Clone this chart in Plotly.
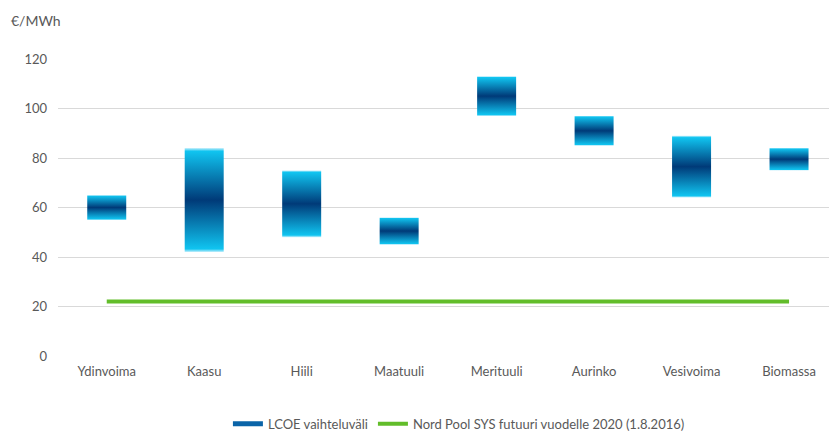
import plotly.graph_objects as go

categories = ["Ydinvoima", "Kaasu", "Hiili", "Maatuuli", "Merituuli", "Aurinko", "Vesivoima", "Biomassa"]
lcoe_low = [55, 42, 48, 45, 97, 85, 64, 75]
lcoe_high = [65, 84, 75, 56, 113, 97, 89, 84]
nordpool_future = 22
y_ticks = [0, 20, 40, 60, 80, 100, 120]

BAR_HALF = 0.2
grad = [[0.0, "#c8f0fc"], [0.03, "#10c4f0"], [0.5, "#003a78"], [0.97, "#10c4f0"], [1.0, "#c8f0fc"]]

fig = go.Figure()
for i, (lo, hi) in enumerate(zip(lcoe_low, lcoe_high)):
    fig.add_trace(go.Scatter(
        x=[i - BAR_HALF, i + BAR_HALF, i + BAR_HALF, i - BAR_HALF, i - BAR_HALF],
        y=[lo, lo, hi, hi, lo],
        mode="lines", fill="toself", line=dict(width=0, color="rgba(0,0,0,0)"),
        fillgradient=dict(type="vertical", colorscale=grad, start=lo, stop=hi),
        showlegend=False, hoverinfo="skip",
    ))

fig.add_trace(go.Scatter(x=[None], y=[None], mode="lines", name="LCOE vaihteluväli",
                         line=dict(color="#0a64a8", width=5)))
fig.add_trace(go.Scatter(x=[0, len(categories) - 1], y=[nordpool_future] * 2, mode="lines",
                         name="Nord Pool SYS futuuri vuodelle 2020 (1.8.2016)",
                         line=dict(color="#62bd2a", width=4)))

font = dict(family="Lato, Carlito, sans-serif", size=13, color="#595959")
fig.update_layout(
    width=829, height=434, margin=dict(l=58, r=0, t=59, b=78, autoexpand=False),
    paper_bgcolor="white", plot_bgcolor="white", font=font,
    xaxis=dict(range=[-0.5, 7.41], tickvals=list(range(len(categories))), ticktext=categories,
               showgrid=False, zeroline=False, showline=False, ticks="", ticklabelstandoff=6,
               tickfont=font),
    yaxis=dict(range=[0, 120], tickvals=y_ticks, showgrid=True, gridcolor="#d9d9d9", gridwidth=1,
               zeroline=False, showline=False, ticks="", ticklabelstandoff=10, tickfont=font),
    legend=dict(orientation="h", x=0.52, xanchor="center", y=-0.228, yanchor="middle",
                font=font, itemwidth=30, tracegroupgap=0),
    showlegend=True,
    annotations=[dict(text="€/MWh", x=-49 / 771, y=1 + (59 - 20) / 297, xref="paper", yref="paper",
                      showarrow=False, xanchor="left", yanchor="middle",
                      font=dict(family="Lato, Carlito, sans-serif", size=14, color="#595959"))],
)
fig.write_html("out.html")
